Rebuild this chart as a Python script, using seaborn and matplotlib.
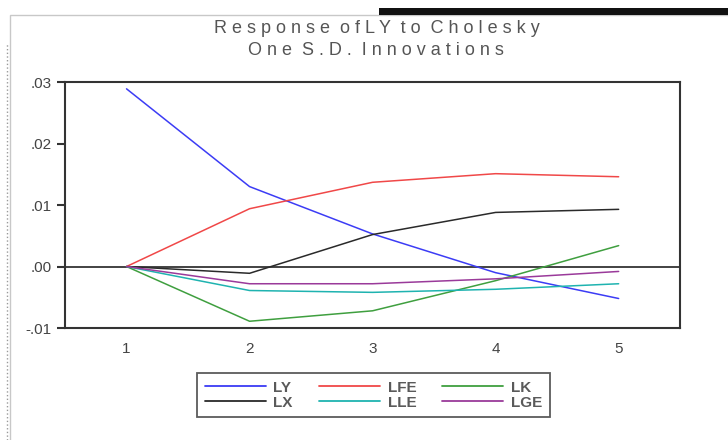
import matplotlib
matplotlib.use("Agg")
import matplotlib.pyplot as plt
import matplotlib.patches as mpatches
from matplotlib.lines import Line2D
import numpy as np
import pandas as pd
import seaborn as sns

# impulse response of LY, horizons 1..5
periods = [1, 2, 3, 4, 5]
ly = [0.0289, 0.0130, 0.0053, -0.0010, -0.0052]
lfe = [0.0, 0.0094, 0.0137, 0.0151, 0.0146]
lk = [0.0, -0.0089, -0.0072, -0.0023, 0.0034]
lx = [0.0, -0.0011, 0.0052, 0.0088, 0.0093]
lle = [0.0, -0.0039, -0.0042, -0.0037, -0.0028]
lge = [0.0, -0.0028, -0.0028, -0.0020, -0.0008]

series_names = ["LY", "LFE", "LK", "LX", "LLE", "LGE"]
series_values = [ly, lfe, lk, lx, lle, lge]
colors = ["#3c3cf5", "#f04848", "#3f9f3f", "#2a2a2a", "#1fb3b0", "#9a3a9a"]

ytick_vals = [-0.01, 0.0, 0.01, 0.02, 0.03]
ytick_labels = ["-.01", ".00", ".01", ".02", ".03"]

rows = []
for name, vals in zip(series_names, series_values):
    for p, v in zip(periods, vals):
        rows.append({"period": p, "value": v, "series": name})
df = pd.DataFrame(rows)

sns.set_style("white")
plt.rcParams["font.family"] = ["Liberation Sans", "DejaVu Sans"]

fig = plt.figure(figsize=(7.28, 4.4), dpi=100)
ax = fig.add_axes([0.0893, 0.2545, 0.845, 0.559])

palette = dict(zip(series_names, colors))
sns.lineplot(data=df, x="period", y="value", hue="series", palette=palette,
             hue_order=series_names, linewidth=1.1, legend=False, ax=ax)

ax.axhline(0, color="#222222", linewidth=1.2, zorder=0)
ax.set_xlim(0.5, 5.5)
ax.set_ylim(-0.01, 0.03)
ax.set_xticks(periods)
ax.set_xticklabels([str(p) for p in periods])
ax.set_xticks(np.arange(0.5, 6.0, 1.0), minor=True)
ax.tick_params(axis="x", which="major", length=0, pad=10, labelsize=11, labelcolor="#444444")
ax.tick_params(axis="x", which="minor", length=6, width=1.5, color="#333333", direction="out")
ax.set_yticks(ytick_vals)
ax.set_yticklabels(ytick_labels)
ax.tick_params(axis="y", length=6, width=1.5, color="#333333", direction="out",
               labelsize=11, labelcolor="#444444", left=True)
ax.set_xlabel("")
ax.set_ylabel("")
for s in ax.spines.values():
    s.set_color("#333333")
    s.set_linewidth(1.5)

fig.text(0.517, 0.935, "R e s p o n s e  o f L Y  t o  C h o l e s k y",
         ha="center", va="center", fontsize=13, color="#555555")
fig.text(0.517, 0.885, "O n e  S . D .  I n n o v a t i o n s",
         ha="center", va="center", fontsize=13, color="#555555")

# legend ordered row-wise like the original
order = ["LY", "LX", "LFE", "LLE", "LK", "LGE"]
handles = [Line2D([0], [0], color=palette[n], linewidth=1.3) for n in order]
leg = fig.legend(handles, order, ncol=3, loc="center",
                 bbox_to_anchor=(0.513, 0.102), frameon=True, fancybox=False,
                 handlelength=4.0, columnspacing=1.7,
                 labelspacing=0.05, borderpad=0.5, handletextpad=0.5,
                 prop={"weight": "bold", "size": 11})
leg.get_frame().set_edgecolor("#333333")
leg.get_frame().set_linewidth(1.3)
for t in leg.get_texts():
    t.set_color("#5a5a5a")

# page decorations around the chart
fig.patches.append(mpatches.Rectangle((0.014, -0.01), 0.99, 0.975, transform=fig.transFigure,
                                      fill=False, edgecolor="#c8c8c8", linewidth=1.0))
fig.patches.append(mpatches.Rectangle((0.52, 0.966), 0.48, 0.016, transform=fig.transFigure,
                                      facecolor="#111111", edgecolor="none"))
fig.add_artist(Line2D([0.010, 0.010], [0.0, 0.9], transform=fig.transFigure,
                      color="#999999", linewidth=1.0, linestyle=":"))

fig.savefig("out.png", dpi=100)
plt.close(fig)
